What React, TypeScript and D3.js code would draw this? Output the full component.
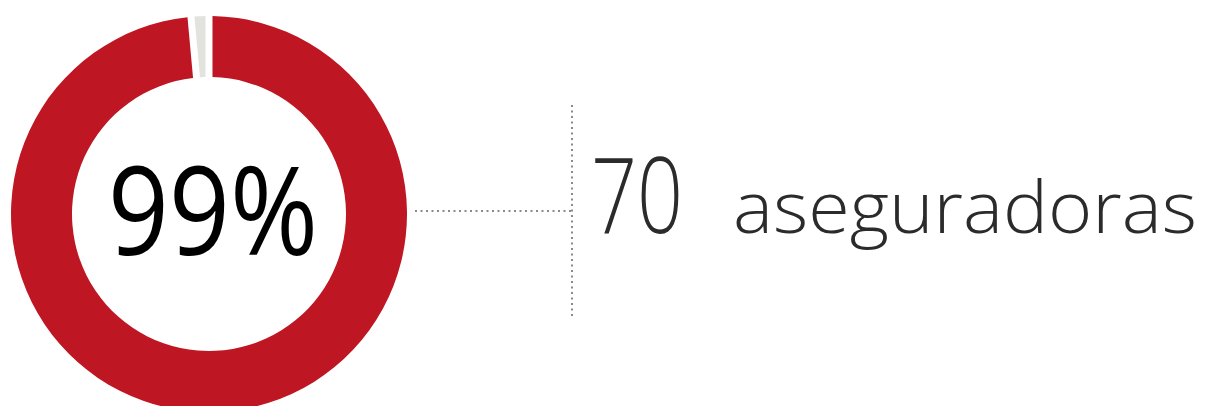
import React from "react";
import * as d3 from "d3";

const categories = ["Aseguradoras", "Resto"];
const values = [99, 1];
const sliceColors = ["#be1622", "#e2e2df"];
const centerLabel = "99%";
const countValue = "70";
const countLabel = "aseguradoras";

export default function App() {
  const W = 1205, H = 406;
  const cx = 209, cy = 214;
  const outerR = 198, innerR = 137;
  const pie = d3.pie<number>().sort(null).padAngle(0.029)(values);
  const arc = d3.arc<d3.PieArcDatum<number>>().innerRadius(innerR).outerRadius(outerR);
  return (
    <svg width={W} height={H} style={{ position: "absolute", left: 0, top: 0, background: "#fff" }}>
      <g transform={`translate(${cx},${cy})`}>
        {pie.map((d, i) => (
          <path key={categories[i]} d={arc(d) || ""} fill={sliceColors[i]} />
        ))}
      </g>
      <text x={213} y={255} textAnchor="middle" fontFamily="'Open Sans', sans-serif" fontSize={123}
        fill="#000" textLength={210} lengthAdjust="spacingAndGlyphs">{centerLabel}</text>
      <line x1={415} y1={211} x2={572} y2={211} stroke="#8a8a8a" strokeWidth={2} strokeDasharray="2 3.5" />
      <line x1={572} y1={105} x2={572} y2={319} stroke="#8a8a8a" strokeWidth={2} strokeDasharray="2 3.5" />
      <text x={591} y={233} fontFamily="'Open Sans', sans-serif" fontWeight={300} fontSize={105}
        fill="#2b2b2b" textLength={92} lengthAdjust="spacingAndGlyphs">{countValue}</text>
      <text x={733} y={233} fontFamily="'Open Sans', sans-serif" fontWeight={300} fontSize={71}
        fill="#2b2b2b" textLength={464} lengthAdjust="spacingAndGlyphs">{countLabel}</text>
    </svg>
  );
}
